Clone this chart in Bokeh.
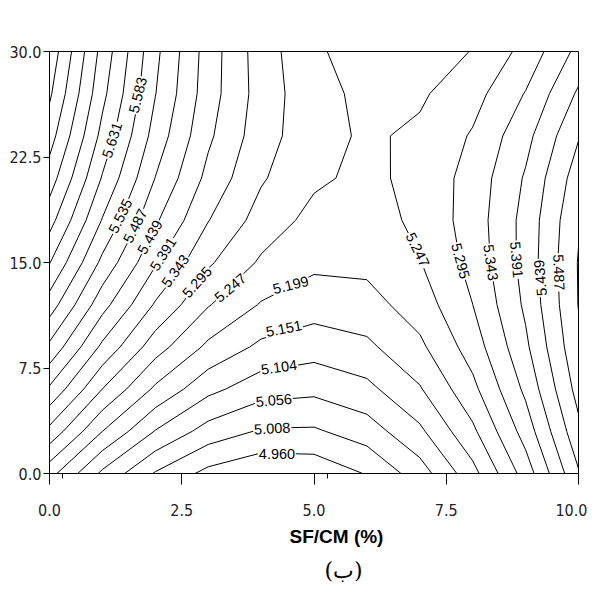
import numpy as np
from bokeh.plotting import figure
from bokeh.models import FixedTicker, NumeralTickFormatter, Label, Range1d, Title
from bokeh.embed import file_html
from bokeh.resources import INLINE

# grid of the response surface (x = SF/CM %, y = second factor)
x_vals = [0, 1, 2, 3, 4, 5, 6, 7, 8, 9, 10]
y_vals = [0, 3, 6, 9, 12, 15, 18, 21, 24, 27, 30]
z_y00 = [5.2162, 5.0940, 5.0038, 4.9456, 4.9194, 4.9252, 4.9630, 5.0328, 5.1346, 5.2684, 5.4342]
z_y03 = [5.3286, 5.1992, 5.1017, 5.0363, 5.0029, 5.0014, 5.0320, 5.0946, 5.1892, 5.3157, 5.4743]
z_y06 = [5.4314, 5.2947, 5.1901, 5.1174, 5.0768, 5.0681, 5.0914, 5.1468, 5.2341, 5.3535, 5.5048]
z_y09 = [5.5244, 5.3805, 5.2686, 5.1887, 5.1408, 5.1249, 5.1411, 5.1892, 5.2693, 5.3814, 5.5255]
z_y12 = [5.6078, 5.4567, 5.3376, 5.2504, 5.1953, 5.1722, 5.1811, 5.2220, 5.2948, 5.3997, 5.5366]
z_y15 = [5.6814, 5.5230, 5.3967, 5.3023, 5.2400, 5.2096, 5.2113, 5.2449, 5.3106, 5.4082, 5.5379]
z_y18 = [5.7454, 5.5798, 5.4462, 5.3447, 5.2751, 5.2320, 5.2250, 5.2583, 5.3168, 5.4072, 5.5296]
z_y21 = [5.7996, 5.6268, 5.4860, 5.3772, 5.3004, 5.2555, 5.2350, 5.2619, 5.3131, 5.3963, 5.5115]
z_y24 = [5.8441, 5.6641, 5.5160, 5.4000, 5.3159, 5.2639, 5.2400, 5.2558, 5.2998, 5.3757, 5.4837]
z_y27 = [5.8790, 5.6917, 5.5365, 5.4132, 5.3219, 5.2626, 5.2354, 5.2401, 5.2768, 5.3456, 5.4463]
z_y30 = [5.9041, 5.7096, 5.5471, 5.4166, 5.3181, 5.2570, 5.2171, 5.2146, 5.2494, 5.3100, 5.4050]

levels = [4.960, 5.008, 5.056, 5.104, 5.151, 5.199, 5.247, 5.295, 5.343, 5.391,
          5.439, 5.487, 5.535, 5.583, 5.631, 5.679, 5.727, 5.775, 5.823, 5.871]

x_ticks = [0, 2.5, 5, 7.5, 10]
x_minor = [0.25, 5.25]
y_ticks = [0, 7.5, 15, 22.5, 30]

# inline contour labels: text, x, y, angle (deg)
label_text = ["5.583", "5.631", "5.535", "5.487", "5.439", "5.391", "5.343", "5.295", "5.247",
              "5.199", "5.151", "5.104", "5.056", "5.008", "4.960",
              "5.247", "5.295", "5.343", "5.391", "5.439", "5.487"]
label_x = [1.67, 1.185, 1.34, 1.62, 1.90, 2.15, 2.38, 2.79, 3.42,
           4.56, 4.43, 4.34, 4.24, 4.21, 4.30,
           6.96, 7.77, 8.34, 8.83, 9.28, 9.63]
label_y = [26.9, 23.7, 18.3, 17.6, 16.8, 15.6, 14.4, 13.6, 13.2,
           13.4, 10.3, 7.55, 5.2, 3.2, 1.4,
           15.9, 15.1, 15.0, 15.2, 13.9, 14.3]
label_angle = [76, 72, 64, 63, 61, 58, 54, 48, 40,
               14, 11, 8, 5, 3, 0,
               -64, -75, -82, -85, 95, -88]

x_title = "SF/CM (%)"
sub_title = "(ب)"

Z = np.array([z_y00, z_y03, z_y06, z_y09, z_y12, z_y15, z_y18, z_y21, z_y24, z_y27, z_y30])

p = figure(output_backend="svg", toolbar_location=None,
           frame_width=529, frame_height=422,
           min_border_left=49, min_border_right=9, min_border_top=51, min_border_bottom=4,
           x_range=Range1d(0, 10), y_range=Range1d(0, 30))
p.background_fill_color = "white"
p.border_fill_color = "white"
p.outline_line_color = "black"
p.xgrid.visible = False
p.ygrid.visible = False

p.contour(x=x_vals, y=y_vals, z=Z, levels=levels, line_color="black", line_width=1)

for t, lx, ly, la in zip(label_text, label_x, label_y, label_angle):
    p.add_layout(Label(x=lx, y=ly, text=t, angle=la, angle_units="deg",
                       text_align="center", text_baseline="middle",
                       text_font="Liberation Sans", text_font_size="14.5px", text_color="black",
                       background_fill_color="white", padding=1))

narrow = "'DejaVu Sans Condensed', 'Liberation Sans'"
p.xaxis.ticker = FixedTicker(ticks=x_ticks, minor_ticks=x_minor)
p.yaxis.ticker = FixedTicker(ticks=y_ticks)
for ax in (p.xaxis[0], p.yaxis[0]):
    ax.formatter = NumeralTickFormatter(format="0.0")
    ax.axis_line_color = "black"
    ax.major_tick_line_color = "black"
    ax.minor_tick_line_color = "black"
    ax.major_tick_in = 0
    ax.minor_tick_in = 0
    ax.major_label_text_font = narrow
    ax.major_label_text_font_size = "16px"
    ax.major_label_text_color = "#222222"
p.xaxis.major_tick_out = 11
p.xaxis.minor_tick_out = 5
p.xaxis.major_label_standoff = 19
p.yaxis.major_tick_out = 6
p.yaxis.minor_tick_out = 0
p.yaxis.major_label_standoff = 2

p.add_layout(Title(text=x_title, align="left", offset=240, standoff=10,
                   text_font="Liberation Sans", text_font_style="bold", text_font_size="19px",
                   text_color="black"), "below")
p.add_layout(Title(text=sub_title, align="left", offset=275, standoff=8,
                   text_font="DejaVu Serif", text_font_style="normal", text_font_size="22px",
                   text_color="black"), "below")

open("out.html", "w").write(file_html(p, INLINE))
